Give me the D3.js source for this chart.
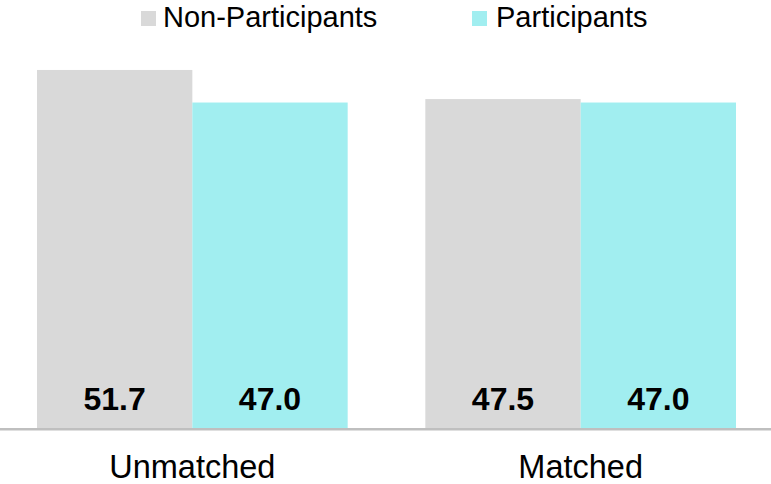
<!DOCTYPE html>
<html>
<head>
<meta charset="utf-8">
<script src="https://cdn.jsdelivr.net/npm/d3@7"></script>
<style>
  html, body { margin: 0; padding: 0; background: #fff; }
  svg { display: block; font-family: Arial, "Liberation Sans", sans-serif; }
</style>
</head>
<body>
<div id="chart"></div>
<script>
// Sample groups and the two series compared in each
const categories = ["Unmatched", "Matched"];
const seriesNames = ["Non-Participants", "Participants"];
const nonParticipants = [51.7, 47.5];
const participants = [47.0, 47.0];
const seriesColors = ["#d9d9d9", "#a1eef0"];

const width = 771, height = 484;
const baseY = 428;

const svg = d3.select("#chart").append("svg")
  .attr("width", width).attr("height", height);

const x = d3.scaleBand().domain(categories).range([37, 736]).paddingInner(0.2).paddingOuter(0);
const xs = d3.scaleBand().domain(seriesNames).range([0, x.bandwidth()]).padding(0);
const y = d3.scaleLinear().domain([0, 60]).range([baseY, baseY - 60 * 6.925]);

const rows = categories.map((c, i) => ({
  cat: c,
  vals: [
    { s: seriesNames[0], v: nonParticipants[i], color: seriesColors[0] },
    { s: seriesNames[1], v: participants[i], color: seriesColors[1] }
  ]
}));

const groups = svg.append("g").selectAll("g").data(rows).join("g")
  .attr("transform", d => `translate(${x(d.cat)},0)`);

groups.selectAll("rect").data(d => d.vals).join("rect")
  .attr("x", d => xs(d.s))
  .attr("y", d => y(d.v))
  .attr("width", xs.bandwidth())
  .attr("height", d => y(0) - y(d.v))
  .attr("fill", d => d.color);

groups.selectAll("text.val").data(d => d.vals).join("text")
  .attr("class", "val")
  .attr("x", d => xs(d.s) + xs.bandwidth() / 2)
  .attr("y", 410)
  .attr("text-anchor", "middle")
  .attr("font-size", 32)
  .attr("font-weight", "bold")
  .attr("fill", "#000")
  .text(d => d.v.toFixed(1));

// Baseline across the full width
svg.append("line")
  .attr("x1", 0).attr("x2", width)
  .attr("y1", baseY + 1.3).attr("y2", baseY + 1.3)
  .attr("stroke", "#bfbfbf").attr("stroke-width", 2.6);

// Category axis labels (no ticks)
const xAxis = d3.axisBottom(x).tickSize(0).tickPadding(0);
const axG = svg.append("g").attr("transform", `translate(0,${baseY})`).call(xAxis);
axG.select(".domain").remove();
axG.selectAll("text")
  .attr("y", 50).attr("dy", null)
  .attr("font-size", 32.5)
  .attr("font-family", "Arial, 'Liberation Sans', sans-serif")
  .attr("fill", "#000");

// Legend
const legendX = [141, 472];
const legend = svg.append("g").selectAll("g").data(seriesNames).join("g")
  .attr("transform", (d, i) => `translate(${legendX[i]},0)`);
legend.append("rect")
  .attr("x", 0).attr("y", 11).attr("width", 15).attr("height", 15)
  .attr("fill", (d, i) => seriesColors[i]);
legend.append("text")
  .attr("x", (d, i) => i === 0 ? 22 : 24)
  .attr("y", 27)
  .attr("font-size", 29)
  .attr("fill", "#000")
  .text(d => d);
</script>
</body>
</html>
